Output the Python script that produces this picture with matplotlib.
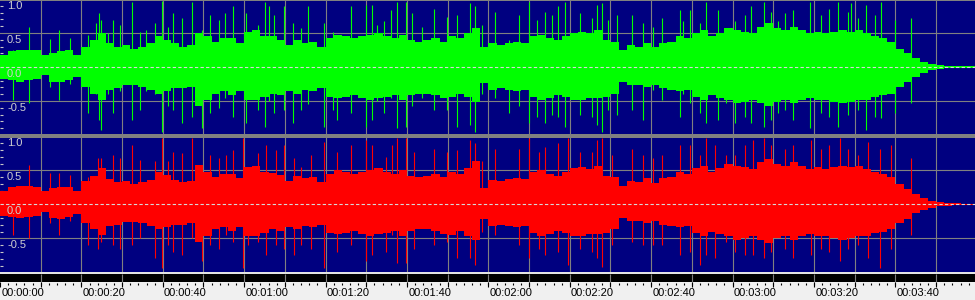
import numpy as np
import matplotlib.pyplot as plt
from matplotlib.patches import Rectangle

# 2-second bins, envelope of the dense part of the waveform
bin_start = np.arange(0, 240, 2)

green_hi = [0.18, 0.23, 0.25, 0.25, 0.25, 0.18, 0.20, 0.23, 0.25, 0.18,
            0.30, 0.40, 0.50, 0.35, 0.30, 0.32, 0.27, 0.30, 0.35, 0.45,
            0.40, 0.35, 0.30, 0.32, 0.50, 0.45, 0.37, 0.42, 0.42, 0.35,
            0.52, 0.54, 0.45, 0.45, 0.40, 0.32, 0.40, 0.35, 0.37, 0.30,
            0.42, 0.47, 0.45, 0.42, 0.45, 0.47, 0.50, 0.45, 0.42, 0.47,
            0.40, 0.37, 0.40, 0.42, 0.37, 0.45, 0.42, 0.50, 0.57, 0.30,
            0.35, 0.32, 0.35, 0.37, 0.35, 0.45, 0.47, 0.42, 0.40, 0.45,
            0.50, 0.52, 0.50, 0.54, 0.40, 0.37, 0.25, 0.32, 0.30, 0.35,
            0.30, 0.35, 0.37, 0.45, 0.42, 0.50, 0.54, 0.45, 0.50, 0.57,
            0.54, 0.52, 0.50, 0.59, 0.64, 0.57, 0.54, 0.59, 0.54, 0.50,
            0.52, 0.50, 0.52, 0.54, 0.52, 0.54, 0.50, 0.45, 0.42, 0.37,
            0.27, 0.20, 0.13, 0.08, 0.04, 0.03, 0.02, 0.015, 0.01, 0.008]
green_lo = [-0.17, -0.19, -0.22, -0.19, -0.17, -0.12, -0.22, -0.22, -0.19, -0.14,
            -0.29, -0.39, -0.49, -0.34, -0.31, -0.26, -0.26, -0.29, -0.34, -0.39,
            -0.36, -0.31, -0.31, -0.29, -0.58, -0.49, -0.39, -0.36, -0.41, -0.36,
            -0.49, -0.49, -0.44, -0.39, -0.41, -0.36, -0.39, -0.34, -0.36, -0.31,
            -0.44, -0.46, -0.44, -0.41, -0.46, -0.49, -0.46, -0.44, -0.41, -0.49,
            -0.41, -0.39, -0.39, -0.41, -0.46, -0.44, -0.39, -0.44, -0.51, -0.24,
            -0.34, -0.31, -0.34, -0.36, -0.34, -0.44, -0.49, -0.46, -0.41, -0.44,
            -0.49, -0.49, -0.46, -0.46, -0.44, -0.39, -0.22, -0.26, -0.26, -0.29,
            -0.26, -0.31, -0.34, -0.36, -0.34, -0.44, -0.49, -0.41, -0.46, -0.49,
            -0.53, -0.51, -0.49, -0.53, -0.58, -0.51, -0.49, -0.53, -0.49, -0.46,
            -0.49, -0.49, -0.51, -0.53, -0.51, -0.49, -0.49, -0.44, -0.41, -0.39,
            -0.29, -0.22, -0.14, -0.09, -0.05, -0.03, -0.02, -0.015, -0.01, -0.008]

red_hi = [0.20, 0.25, 0.27, 0.27, 0.26, 0.20, 0.24, 0.26, 0.26, 0.20,
          0.34, 0.42, 0.53, 0.37, 0.33, 0.34, 0.30, 0.33, 0.36, 0.48,
          0.43, 0.36, 0.33, 0.35, 0.58, 0.47, 0.40, 0.44, 0.44, 0.38,
          0.55, 0.56, 0.47, 0.46, 0.43, 0.35, 0.42, 0.38, 0.40, 0.33,
          0.44, 0.50, 0.47, 0.44, 0.47, 0.50, 0.53, 0.48, 0.45, 0.50,
          0.42, 0.40, 0.42, 0.44, 0.40, 0.48, 0.45, 0.53, 0.63, 0.24,
          0.36, 0.34, 0.37, 0.39, 0.37, 0.47, 0.50, 0.44, 0.42, 0.47,
          0.53, 0.55, 0.52, 0.56, 0.42, 0.40, 0.27, 0.35, 0.33, 0.38,
          0.32, 0.38, 0.40, 0.47, 0.44, 0.53, 0.56, 0.48, 0.53, 0.60,
          0.57, 0.55, 0.52, 0.62, 0.66, 0.60, 0.56, 0.62, 0.56, 0.52,
          0.55, 0.52, 0.55, 0.56, 0.55, 0.56, 0.52, 0.47, 0.44, 0.40,
          0.30, 0.22, 0.15, 0.09, 0.05, 0.035, 0.025, 0.015, 0.01, 0.008]
red_lo = [-0.17, -0.18, -0.20, -0.18, -0.17, -0.12, -0.20, -0.21, -0.19, -0.14,
          -0.28, -0.36, -0.45, -0.32, -0.30, -0.26, -0.26, -0.28, -0.32, -0.36,
          -0.34, -0.30, -0.30, -0.28, -0.55, -0.46, -0.37, -0.34, -0.39, -0.34,
          -0.47, -0.47, -0.42, -0.37, -0.39, -0.34, -0.37, -0.32, -0.34, -0.30,
          -0.42, -0.44, -0.42, -0.39, -0.44, -0.47, -0.44, -0.42, -0.39, -0.47,
          -0.39, -0.37, -0.37, -0.39, -0.44, -0.45, -0.39, -0.47, -0.52, -0.22,
          -0.32, -0.30, -0.32, -0.34, -0.32, -0.42, -0.47, -0.44, -0.39, -0.42,
          -0.47, -0.47, -0.44, -0.44, -0.42, -0.37, -0.20, -0.25, -0.25, -0.28,
          -0.25, -0.30, -0.32, -0.34, -0.32, -0.42, -0.47, -0.40, -0.44, -0.47,
          -0.52, -0.50, -0.47, -0.52, -0.57, -0.50, -0.47, -0.52, -0.47, -0.44,
          -0.47, -0.47, -0.50, -0.52, -0.50, -0.47, -0.47, -0.42, -0.40, -0.37,
          -0.28, -0.21, -0.13, -0.08, -0.05, -0.03, -0.02, -0.015, -0.01, -0.008]

# isolated peaks sticking out of the envelope (seconds, top, bottom)
green_spike_t = [3.1, 7.2, 12.3, 14.5, 17.3, 21.7, 23.7, 24.3, 24.9, 26.6, 27.8, 29.6, 32.4, 34.3, 35.9,
                 38.0, 39.8, 41.3, 42.5, 44.8, 47.1, 49.6, 51.6, 53.9, 55.4, 57.2, 60.5, 63.5, 65.1, 66.2,
                 67.4, 69.9, 71.9, 73.9, 75.6, 79.7, 81.7, 82.9, 86.2, 89.9, 91.5, 92.7, 94.4, 96.0, 97.6,
                 99.8, 101.3, 103.8, 106.6, 109.9, 112.3, 115.6, 116.7, 118.5, 121.7, 125.0, 127.4, 129.9,
                 131.9, 134.0, 135.6, 137.2, 138.9, 142.6, 145.4, 146.7, 148.0, 149.5, 151.5, 155.2, 158.1,
                 160.5, 162.6, 167.1, 167.9, 169.5, 172.0, 173.4, 176.5, 178.3, 180.6, 183.0, 184.6, 187.7,
                 189.5, 191.2, 192.8, 194.9, 199.0, 201.8, 203.8, 205.9, 208.3, 209.1, 210.8, 212.8, 214.9,
                 216.5, 219.8, 223.9]
green_spike_hi = [0.25, 0.59, 0.41, 0.54, 0.42, 0.47, 0.65, 0.80, 0.69, 0.50, 0.69, 0.62, 0.95, 0.52, 0.54,
                  0.65, 0.97, 0.59, 0.79, 0.72, 0.95, 0.54, 0.76, 0.69, 0.79, 0.89, 0.79, 0.62, 0.95, 0.89,
                  0.76, 0.89, 0.64, 0.57, 0.89, 0.64, 0.52, 0.40, 0.89, 0.91, 0.91, 0.62, 0.67, 0.84, 0.96,
                  0.96, 0.79, 0.59, 0.86, 0.74, 0.76, 0.94, 0.89, 0.62, 0.81, 0.40, 0.76, 0.96,
                  0.69, 0.81, 0.76, 0.89, 0.96, 0.79, 0.72, 0.91, 0.94, 0.69, 0.76, 0.76, 0.64,
                  0.59, 0.72, 0.84, 0.67, 0.84, 0.64, 0.96, 0.84, 0.57, 0.67, 0.76, 0.89, 0.96,
                  0.81, 0.67, 0.79, 0.84, 0.96, 0.76, 0.86, 0.96, 0.81, 0.94, 0.72, 0.91, 0.76,
                  0.95, 0.69, 0.72]
green_spike_lo = [-0.49, -0.53, -0.29, -0.49, -0.25, -0.68, -0.40, -0.78, -0.93, -0.40, -0.68, -0.35, -0.78, -0.63, -0.35,
                  -0.40, -0.95, -0.58, -0.63, -0.83, -0.73, -0.90, -0.68, -0.61, -0.45, -0.73, -0.83, -0.63, -0.88, -0.50,
                  -0.68, -0.63, -0.83, -0.63, -0.54, -0.88, -0.63, -0.78, -0.68, -0.88, -0.78, -0.50, -0.68, -0.45, -0.90,
                  -0.88, -0.58, -0.45, -0.63, -0.63, -0.88, -0.85, -0.95, -0.40, -0.45, -0.68, -0.58, -0.83,
                  -0.73, -0.83, -0.71, -0.73, -0.88, -0.71, -0.73, -0.85, -0.95, -0.63, -0.71, -0.63, -0.78,
                  -0.34, -0.49, -0.73, -0.40, -0.53, -0.68, -0.83, -0.78, -0.53, -0.83, -0.73, -0.83, -0.88,
                  -0.78, -0.68, -0.63, -0.78, -0.90, -0.68, -0.73, -0.88, -0.71, -0.50, -0.63, -0.93, -0.73,
                  -0.75, -0.68, -0.53]

red_spike_t = [3.1, 7.2, 12.3, 14.5, 17.3, 21.7, 24.1, 24.9, 27.8, 29.4, 32.5, 34.3, 38.0, 39.8, 41.3,
               42.5, 44.8, 47.2, 49.7, 51.5, 53.9, 55.6, 57.2, 59.6, 60.9, 63.3, 65.4, 67.8, 69.9, 72.3,
               73.9, 76.4, 79.7, 82.9, 86.2, 89.9, 91.5, 94.8, 96.4, 97.6, 99.8, 101.7, 106.6, 109.9, 112.3,
               115.6, 116.7, 118.5, 121.7, 127.4, 129.9, 132.4, 134.0, 137.2, 139.5, 142.6, 145.4, 146.7,
               148.0, 150.3, 155.2, 158.1, 160.5, 162.6, 167.1, 169.5, 172.0, 173.4, 175.7, 178.3, 180.6,
               183.0, 185.0, 187.7, 189.5, 192.8, 194.9, 199.3, 201.8, 203.8, 206.3, 208.3, 210.8, 213.2,
               216.1, 219.0, 223.9]
red_spike_hi = [0.25, 0.58, 0.46, 0.46, 0.43, 0.40, 0.68, 0.68, 0.73, 0.68, 0.87, 0.65, 0.63, 0.97, 0.63,
                0.77, 0.75, 0.97, 0.58, 0.73, 0.68, 0.73, 0.80, 0.97, 0.50, 0.75, 0.87, 0.80, 0.87, 0.68,
                0.55, 0.73, 0.92, 0.77, 0.87, 0.95, 0.87, 0.70, 0.87, 0.97, 0.97, 0.77, 0.82, 0.77, 0.80,
                0.95, 0.90, 0.63, 0.82, 0.82, 0.97, 0.77, 0.85, 0.90, 0.97, 0.77, 0.77, 0.95,
                0.97, 0.73, 0.82, 0.73, 0.68, 0.73, 0.87, 0.87, 0.73, 0.97, 0.87, 0.73, 0.73,
                0.87, 0.95, 0.97, 0.87, 0.82, 0.87, 0.95, 0.82, 0.87, 0.97, 0.82, 0.73, 0.92,
                0.82, 0.87, 0.68]
red_spike_lo = [-0.45, -0.50, -0.28, -0.45, -0.25, -0.60, -0.65, -0.55, -0.60, -0.65, -0.60, -0.50, -0.79, -0.94, -0.60,
                -0.70, -0.75, -0.50, -0.84, -0.60, -0.65, -0.45, -0.55, -0.94, -0.60, -0.55, -0.75, -0.60, -0.65, -0.75,
                -0.60, -0.65, -0.94, -0.70, -0.60, -0.84, -0.75, -0.70, -0.45, -0.87, -0.87, -0.65, -0.60, -0.55, -0.79,
                -0.79, -0.89, -0.40, -0.45, -0.60, -0.79, -0.65, -0.75, -0.70, -0.89, -0.65, -0.70, -0.79,
                -0.92, -0.60, -0.55, -0.60, -0.60, -0.60, -0.75, -0.70, -0.89, -0.75, -0.79, -0.55, -0.70,
                -0.75, -0.75, -0.79, -0.70, -0.65, -0.79, -0.75, -0.65, -0.70, -0.84, -0.65, -0.60, -0.79,
                -0.94, -0.65, -0.45]

amp_ticks = [1.0, 0.5, 0.0, -0.5]
amp_labels = ["1.0", "0.5", "0.0", "-0.5"]
time_ticks = np.arange(0, 240, 20)
time_labels = ["00:%02d:%02d" % (s // 60, s % 60) for s in time_ticks]

W, H = 975, 300
PX_PER_S = 4.07
T_MAX = W / PX_PER_S
NAVY = "#000080"
GRID = "#808080"

fig = plt.figure(figsize=(W / 100, H / 100), dpi=100, facecolor="#f0f0f0")


def px_axes(top, bottom):
    return fig.add_axes([0, 1 - bottom / H, 1, (bottom - top) / H])


def channel(ax, hi, lo, s_t, s_hi, s_lo, color):
    ax.set_facecolor(NAVY)
    ax.set_xlim(0, T_MAX)
    ax.set_ylim(-1, 1)
    for sp in ax.spines.values():
        sp.set_visible(False)
    ax.set_xticks(np.arange(10, 240, 10))
    ax.set_yticks([-0.5, 0.5])
    ax.grid(True, color=GRID, lw=0.8)
    ax.set_axisbelow(True)
    ax.tick_params(length=0, labelbottom=False, labelleft=False)
    ax.set_yticks(np.arange(-0.9, 0.95, 0.1), minor=True)
    ax.tick_params(axis="y", which="minor", direction="in", length=2.5,
                   width=0.8, color="#c8c8c8", left=True)
    hi = np.array(hi)
    lo = np.array(lo)
    ax.bar(bin_start, hi - lo, bottom=lo, width=2, align="edge",
           color=color, lw=0, zorder=2)
    ax.vlines(s_t, s_lo, s_hi, color=color, lw=0.8, zorder=2)
    ax.axhline(0, color="#d8d8d8", lw=0.8, ls=(0, (3, 2)), zorder=3)
    for v, lab in zip(amp_ticks, amp_labels):
        ax.annotate(lab, (0, v), xytext=(7, -2), textcoords="offset pixels",
                    ha="left", va="top", color="#d0d0d0", fontsize=8,
                    family="Liberation Sans", zorder=4)


ax_l = px_axes(-1, 135)
channel(ax_l, green_hi, green_lo, green_spike_t, green_spike_hi, green_spike_lo, "#00ff00")
ax_r = px_axes(136.3, 272.3)
channel(ax_r, red_hi, red_lo, red_spike_t, red_spike_hi, red_spike_lo, "#ff0000")

# frame pieces
fig.add_artist(Rectangle((0, 1 - 1 / H), 1, 1 / H, transform=fig.transFigure,
                         color=GRID, lw=0))
fig.add_artist(Rectangle((0, 1 - 138 / H), 1, 4 / H, transform=fig.transFigure,
                         color=GRID, lw=0))

# time ruler
ax_t = px_axes(272, 300)
ax_t.set_xlim(0, T_MAX)
ax_t.set_ylim(300, 272)
ax_t.axis("off")
ax_t.axhspan(272, 273.5, color="#e4e4e4", lw=0)
ax_t.axhspan(273.5, 282, color="black", lw=0)
ax_t.vlines(np.arange(10, 240, 10), 273.5, 282, color=GRID, lw=0.8)
ax_t.vlines(np.arange(0, 240, 10), 282, 286.5, color="black", lw=0.8)
ax_t.vlines(np.arange(2, 240, 2), 282.5, 284.5, color="black", lw=0.8)
for s, lab in zip(time_ticks, time_labels):
    ax_t.text(s + 0.3, 293, lab, ha="left", va="center", fontsize=8,
              family="Liberation Sans", color="black")

fig.savefig("out.png", dpi=100, facecolor=fig.get_facecolor())
